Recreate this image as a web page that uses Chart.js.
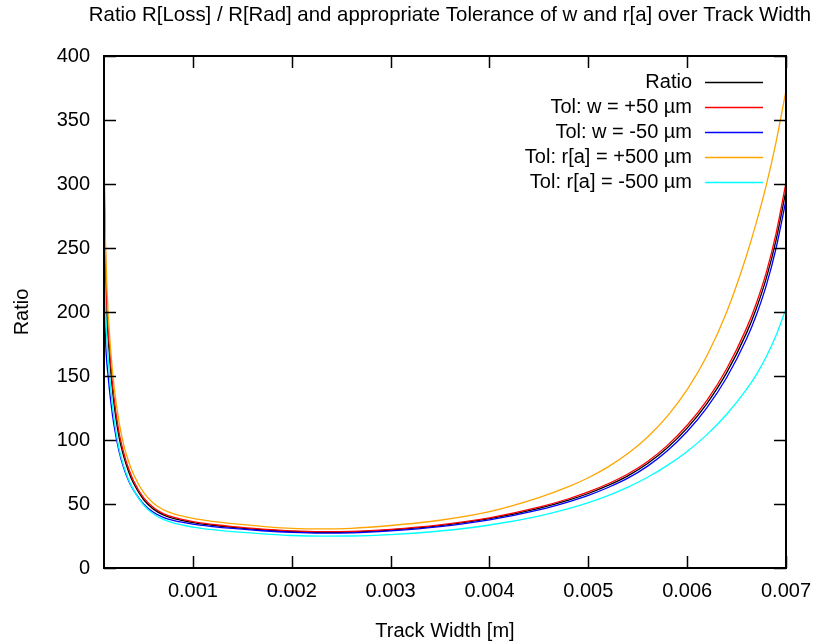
<!DOCTYPE html>
<html>
<head>
<meta charset="utf-8">
<script src="https://cdn.jsdelivr.net/npm/chart.js@4.4.1/dist/chart.umd.min.js"></script>
<style>
    html, body { margin: 0; padding: 0; background: #fff; }
</style>
</head>
<body>
<canvas id="grafico" width="816" height="644"></canvas>
<script>
// track width in metres
const larguras = [0.0001, 0.00012, 0.00014, 0.00017, 0.0002, 0.00025, 0.0003, 0.00035, 0.0004, 0.0005,
    0.0006, 0.0007, 0.0008, 0.001, 0.0012, 0.0014, 0.0017, 0.002, 0.0023, 0.0026,
    0.003, 0.0035, 0.004, 0.0045, 0.0048, 0.005, 0.0052, 0.0054, 0.0056, 0.0058,
    0.006, 0.0062, 0.0064, 0.0066, 0.0067, 0.0068, 0.0069, 0.007];

const ratio = [275, 212, 182, 152, 129, 103, 87, 75, 66, 53.5,
    46, 41.5, 38.8, 35.5, 33.4, 31.8, 29.9, 28.5, 27.9, 28.1,
    29.7, 33.1, 38.5, 46.6, 53, 58.2, 64.5, 72, 81.6, 93.9,
    109.3, 128.5, 152.6, 183.5, 202.8, 226.3, 256.4, 295];
const tolWMais = [325, 222, 190, 158, 134, 107, 90, 77.5, 68, 55,
    47.2, 42.5, 39.7, 36.2, 34, 32.3, 30.4, 29, 28.4, 28.6,
    30.2, 33.7, 39.2, 47.5, 54.1, 59.4, 65.8, 73.4, 83.2, 95.8,
    111.5, 131, 155.7, 187.2, 206.9, 230.8, 261.5, 301];
const tolWMenos = [210, 170, 151, 129, 112, 92, 78, 68, 60.7, 50,
    43.5, 39.5, 37.2, 34.3, 32.4, 30.9, 29.1, 27.8, 27.2, 27.4,
    29, 32.3, 37.6, 45.4, 51.7, 56.7, 62.9, 70.2, 79.6, 91.6,
    106.6, 125.3, 148.8, 178.9, 197.7, 220.6, 250, 287.6];
const tolRaMais = [300, 240, 202, 168, 143, 115, 96, 83, 73, 59,
    50.5, 45.5, 42.5, 38.8, 36.4, 34.6, 32.5, 30.9, 30.5, 31,
    33.2, 37.3, 44, 55, 63.5, 70.5, 79, 89.4, 102.4, 118.7,
    139.3, 165.8, 200, 244, 270, 299, 333, 373];
const tolRaMenos = [245, 193, 166, 139, 118, 94, 79.5, 68.8, 60.8, 49.2,
    42.2, 38, 35.3, 32, 29.9, 28.4, 26.7, 25.4, 24.9, 25,
    26.1, 28.9, 33.6, 40.6, 46.3, 51, 56.6, 63.2, 70.9, 80.2,
    91.1, 104.2, 120.1, 139.5, 151.1, 165, 181.8, 202.6];

const nomes = ['Ratio', 'Tol: w = +50 µm', 'Tol: w = -50 µm', 'Tol: r[a] = +500 µm', 'Tol: r[a] = -500 µm'];
const cores = ['#000000', '#ff0000', '#0000ff', '#ffa500', '#00ffff'];
const series = [ratio, tolWMais, tolWMenos, tolRaMais, tolRaMenos];

const xTicks = [0.001, 0.002, 0.003, 0.004, 0.005, 0.006, 0.007];
const yTicks = [0, 50, 100, 150, 200, 250, 300, 350, 400];

const fonte = '"Liberation Sans", Arial, sans-serif';

const datasets = series.map((valores, i) => ({
    label: nomes[i],
    data: valores.map((v, k) => ({ x: larguras[k], y: v })),
    borderColor: cores[i],
    backgroundColor: cores[i],
    borderWidth: 1.3,
    pointRadius: 0,
    cubicInterpolationMode: 'monotone',
    order: series.length - i
}));

const moldura = {
    id: 'moldura',
    afterDatasetsDraw(chart) {
        const { ctx, chartArea: a, scales } = chart;
        ctx.save();
        ctx.strokeStyle = '#000';
        ctx.lineWidth = 1.5;
        ctx.beginPath();
        xTicks.forEach(v => {
            const px = Math.round(scales.x.getPixelForValue(v)) + 0.5;
            ctx.moveTo(px, a.bottom); ctx.lineTo(px, a.bottom - 12);
            ctx.moveTo(px, a.top); ctx.lineTo(px, a.top + 12);
        });
        yTicks.forEach(v => {
            const py = Math.round(scales.y.getPixelForValue(v)) + 0.5;
            ctx.moveTo(a.left, py); ctx.lineTo(a.left + 12, py);
            ctx.moveTo(a.right, py); ctx.lineTo(a.right - 12, py);
        });
        ctx.stroke();
        ctx.lineWidth = 2;
        ctx.strokeRect(a.left, a.top, a.right - a.left, a.bottom - a.top);

        // legenda
        ctx.font = '20px ' + fonte;
        ctx.textAlign = 'right';
        ctx.textBaseline = 'middle';
        nomes.forEach((nome, i) => {
            const y = 82 + 25 * i;
            ctx.fillStyle = '#000';
            ctx.fillText(nome, 692, y);
            ctx.strokeStyle = cores[i];
            ctx.lineWidth = 1.5;
            ctx.beginPath();
            ctx.moveTo(705, y + 0.5);
            ctx.lineTo(763, y + 0.5);
            ctx.stroke();
        });

        // titulos
        ctx.fillStyle = '#000';
        ctx.textAlign = 'center';
        ctx.fillText('Track Width [m]', 445, 631);
        ctx.font = '20.4px ' + fonte;
        ctx.fillText('Ratio R[Loss] / R[Rad] and appropriate Tolerance of w and r[a] over Track Width', 450, 15);
        ctx.font = '20px ' + fonte;
        ctx.translate(22, 312);
        ctx.rotate(-Math.PI / 2);
        ctx.fillText('Ratio', 0, 0);
        ctx.restore();
    }
};

const ctx = document.getElementById('grafico');

new Chart(ctx, {
    type: 'line',
    data: { datasets: datasets },
    options: {
        responsive: false,
        animation: false,
        devicePixelRatio: 1,
        layout: { padding: { top: 56, right: 30, left: 0, bottom: 0 } },
        plugins: {
            legend: { display: false },
            title: { display: false },
            tooltip: { enabled: false }
        },
        scales: {
            x: {
                type: 'linear',
                min: 0.0001,
                max: 0.007,
                afterBuildTicks: (scale) => { scale.ticks = xTicks.map(v => ({ value: v })); },
                afterFit: (scale) => {
                    scale.height = 76;
                    scale.paddingLeft = 0;
                    scale.paddingRight = 0;
                },
                grid: { display: false, drawTicks: false },
                border: { display: false },
                ticks: {
                    padding: 11,
                    color: '#000',
                    font: { family: fonte, size: 20 },
                    maxRotation: 0,
                    callback: (v) => v.toFixed(3)
                }
            },
            y: {
                min: 0,
                max: 400,
                afterBuildTicks: (scale) => { scale.ticks = yTicks.map(v => ({ value: v })); },
                afterFit: (scale) => { scale.width = 104; },
                grid: { display: false, drawTicks: false },
                border: { display: false },
                ticks: {
                    padding: 14,
                    color: '#000',
                    font: { family: fonte, size: 20 }
                }
            }
        }
    },
    plugins: [moldura]
});
</script>
</body>
</html>
